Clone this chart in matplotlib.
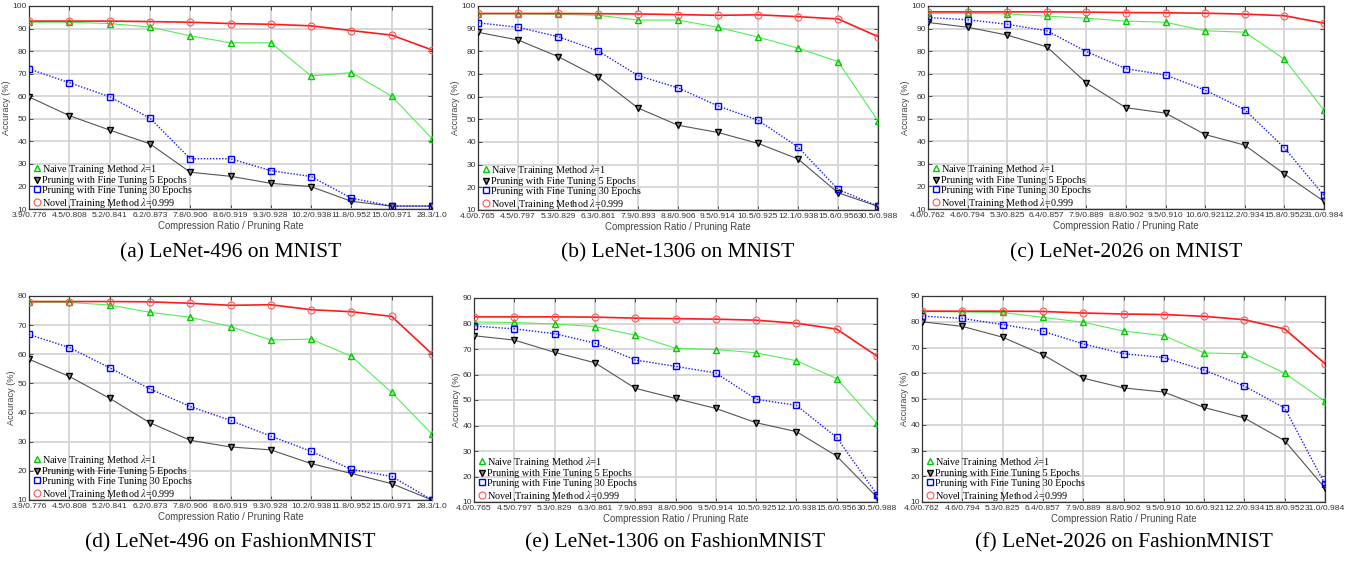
import matplotlib
matplotlib.use("Agg")
import matplotlib.pyplot as plt
from matplotlib.lines import Line2D

# ---------------- data ----------------
ticks_496 = ["3.9/0.776", "4.5/0.808", "5.2/0.841", "6.2/0.873", "7.8/0.906", "8.6/0.919",
             "9.3/0.928", "10.2/0.938", "11.8/0.952", "15.0/0.971", "28.3/1.0"]
ticks_1306 = ["4.0/0.765", "4.5/0.797", "5.3/0.829", "6.3/0.861", "7.9/0.893", "8.8/0.906",
              "9.5/0.914", "10.5/0.925", "12.1/0.938", "15.6/0.956", "30.5/0.988"]
ticks_2026 = ["4.0/0.762", "4.6/0.794", "5.3/0.825", "6.4/0.857", "7.9/0.889", "8.8/0.902",
              "9.5/0.910", "10.6/0.921", "12.2/0.934", "15.8/0.952", "31.0/0.984"]

# (a) LeNet-496 on MNIST
a_naive = [92.8, 92.8, 92.2, 90.7, 86.8, 83.7, 83.7, 69.0, 70.5, 60.0, 41.2]
a_ft5 = [59.7, 51.4, 45.0, 38.9, 26.3, 24.5, 21.4, 19.9, 13.4, 11.3, 11.3]
a_ft30 = [72.1, 66.0, 59.8, 50.3, 32.3, 32.3, 27.0, 24.4, 14.8, 11.3, 11.3]
a_novel = [93.3, 93.3, 93.3, 93.1, 92.8, 92.2, 91.9, 91.2, 89.1, 87.1, 80.5]

# (b) LeNet-1306 on MNIST
b_naive = [96.5, 96.5, 96.3, 95.9, 93.8, 93.8, 90.6, 86.3, 81.4, 75.5, 49.3]
b_ft5 = [88.4, 85.0, 77.7, 68.6, 55.0, 47.4, 44.2, 39.4, 32.5, 17.6, 11.6]
b_ft30 = [92.6, 90.6, 86.5, 80.2, 69.3, 63.9, 55.9, 49.6, 37.8, 19.1, 11.7]
b_novel = [96.7, 96.7, 96.7, 96.6, 96.5, 96.2, 95.9, 96.1, 95.3, 94.3, 86.5]

# (c) LeNet-2026 on MNIST
c_naive = [96.8, 96.8, 96.5, 95.5, 94.6, 93.3, 92.8, 89.0, 88.4, 76.4, 53.8]
c_ft5 = [92.7, 90.6, 87.1, 81.9, 65.9, 54.9, 52.5, 43.0, 38.3, 25.5, 13.4]
c_ft30 = [94.9, 93.9, 91.9, 89.0, 79.8, 72.2, 69.4, 62.7, 54.0, 37.1, 16.0]
c_novel = [97.4, 97.4, 97.4, 97.4, 97.3, 97.1, 97.0, 96.8, 96.4, 95.7, 92.4]

# (d) LeNet-496 on FashionMNIST
d_naive = [77.9, 77.8, 76.9, 74.4, 72.7, 69.5, 64.9, 65.2, 59.3, 46.9, 32.6]
d_ft5 = [58.3, 52.4, 44.9, 36.5, 30.5, 28.2, 27.2, 22.5, 19.1, 15.6, 10.0]
d_ft30 = [66.8, 62.3, 55.4, 48.1, 42.1, 37.3, 31.9, 26.7, 20.5, 18.1, 10.0]
d_novel = [78.1, 78.1, 78.1, 78.0, 77.5, 76.8, 77.0, 75.3, 74.6, 73.0, 60.1]

# (e) LeNet-1306 on FashionMNIST
e_naive = [80.6, 80.4, 79.8, 78.8, 75.4, 70.3, 69.8, 68.5, 65.4, 58.4, 40.8]
e_ft5 = [75.2, 73.5, 68.7, 64.6, 54.6, 50.6, 46.7, 41.1, 37.6, 28.0, 11.9]
e_ft30 = [79.0, 77.9, 76.0, 72.3, 65.7, 63.2, 60.6, 50.3, 47.9, 35.3, 12.9]
e_novel = [82.6, 82.6, 82.6, 82.5, 82.1, 81.9, 81.7, 81.3, 80.1, 77.8, 67.2]

# (f) LeNet-2026 on FashionMNIST
f_naive = [84.0, 83.8, 83.6, 81.7, 79.8, 76.4, 74.6, 67.9, 67.5, 60.0, 49.1]
f_ft5 = [80.0, 78.2, 74.0, 67.2, 58.1, 54.3, 52.7, 46.7, 42.6, 33.8, 15.4]
f_ft30 = [82.2, 81.3, 78.9, 76.3, 71.4, 67.6, 66.1, 61.2, 55.0, 46.5, 16.9]
f_novel = [84.1, 84.1, 84.1, 84.0, 83.4, 83.0, 82.8, 82.1, 80.8, 77.2, 63.7]

captions = ["(a) LeNet-496 on MNIST", "(b) LeNet-1306 on MNIST", "(c) LeNet-2026 on MNIST",
            "(d) LeNet-496 on FashionMNIST", "(e) LeNet-1306 on FashionMNIST",
            "(f) LeNet-2026 on FashionMNIST"]

labels = [r"Naive Training Method $\lambda$=1",
          "Pruning with Fine Tuning 5 Epochs",
          "Pruning with Fine Tuning 30 Epochs",
          r"Novel Training Method $\lambda$=0.999"]

panels = [
    (ticks_496, a_naive, a_ft5, a_ft30, a_novel, (10, 100)),
    (ticks_1306, b_naive, b_ft5, b_ft30, b_novel, (10, 100)),
    (ticks_2026, c_naive, c_ft5, c_ft30, c_novel, (10, 100)),
    (ticks_496, d_naive, d_ft5, d_ft30, d_novel, (10, 80)),
    (ticks_1306, e_naive, e_ft5, e_ft30, e_novel, (10, 90)),
    (ticks_2026, f_naive, f_ft5, f_ft30, f_novel, (10, 90)),
]

# axes rectangles in pixels (left, top, right, bottom)
W, H = 1360, 562
rects = [(29, 6, 432, 209), (478, 6, 878, 210), (928, 6, 1324, 209),
         (29, 296, 432, 500), (474, 298, 877, 502), (922, 296, 1325, 502)]
cap_y = [253, 253, 253, 543, 543, 543]

plt.rcParams['mathtext.fontset'] = 'stix'
fig = plt.figure(figsize=(W / 100, H / 100), dpi=100)
sans = 'Liberation Sans'
serif = 'Liberation Serif'
tick_col = '#333333'

styles = [
    dict(color='#55ee55', lw=0.8, marker='^', ms=5, mfc='none', mec='#00cc00', mew=1.0, zorder=3),
    dict(color='#555555', lw=0.8, marker='v', ms=5, mfc='#888888', mec='black', mew=1.0, zorder=3),
    dict(color='#1a1aff', lw=1.0, ls=(0, (1, 1.2)), marker='s', ms=4.2, mfc='none',
         mec='#0000ff', mew=1.0, zorder=4),
    dict(color='#ff1a1a', lw=1.2, marker='o', ms=5, mfc='none', mec='#ff5555', mew=0.8, zorder=5),
]

for i, (ticks, naive, ft5, ft30, novel, ylim) in enumerate(panels):
    l, t, r, b = rects[i]
    ax = fig.add_axes([l / W, 1 - b / H, (r - l) / W, (b - t) / H])
    x = list(range(len(ticks)))
    for series, st in zip([naive, ft5, ft30, novel], styles):
        ax.plot(x, series, **st)
    ax.set_xlim(0, len(ticks) - 1)
    ax.set_ylim(*ylim)
    ax.set_yticks(range(ylim[0], ylim[1] + 1, 10))
    ax.set_xticks(x)
    ax.set_xticklabels(ticks, fontsize=6.1, family=sans, color=tick_col)
    for lab in ax.get_yticklabels():
        lab.set_fontsize(6.1)
        lab.set_family(sans)
        lab.set_color(tick_col)
    ax.tick_params(direction='in', length=3, width=0.6, top=True, right=True,
                   pad=2, colors='#333333', labelcolor=tick_col)
    ax.tick_params(axis='y', pad=1.5)
    ax.grid(True, color='#d4d4d4', lw=1.3)
    ax.set_axisbelow(True)
    for s in ax.spines.values():
        s.set_color('#333333')
        s.set_linewidth(0.9)
    ax.set_xlabel("Compression Ratio / Pruning Rate", fontsize=6.9, family=sans,
                  color='#444444', labelpad=1.5)
    ax.set_ylabel("Accuracy (%)", fontsize=6.6, family=sans, color='#444444', labelpad=1)
    handles = []
    for st in styles:
        hs = {k: v for k, v in st.items() if k not in ('zorder', 'ls', 'lw', 'color')}
        handles.append(Line2D([], [], ls='none', **hs))
    ax.legend(handles, labels, loc='lower left', bbox_to_anchor=(0.012, -0.005),
              frameon=False, prop={'family': serif, 'size': 7.3},
              handlelength=0.6, handletextpad=0.15, borderaxespad=0.0,
              labelspacing=0.05, borderpad=0.05)
    cx = (l + r) / 2
    fig.text(cx / W, 1 - cap_y[i] / H, captions[i], ha='center', va='center',
             fontsize=15.5, family=serif)

fig.savefig("out.png", dpi=100)
